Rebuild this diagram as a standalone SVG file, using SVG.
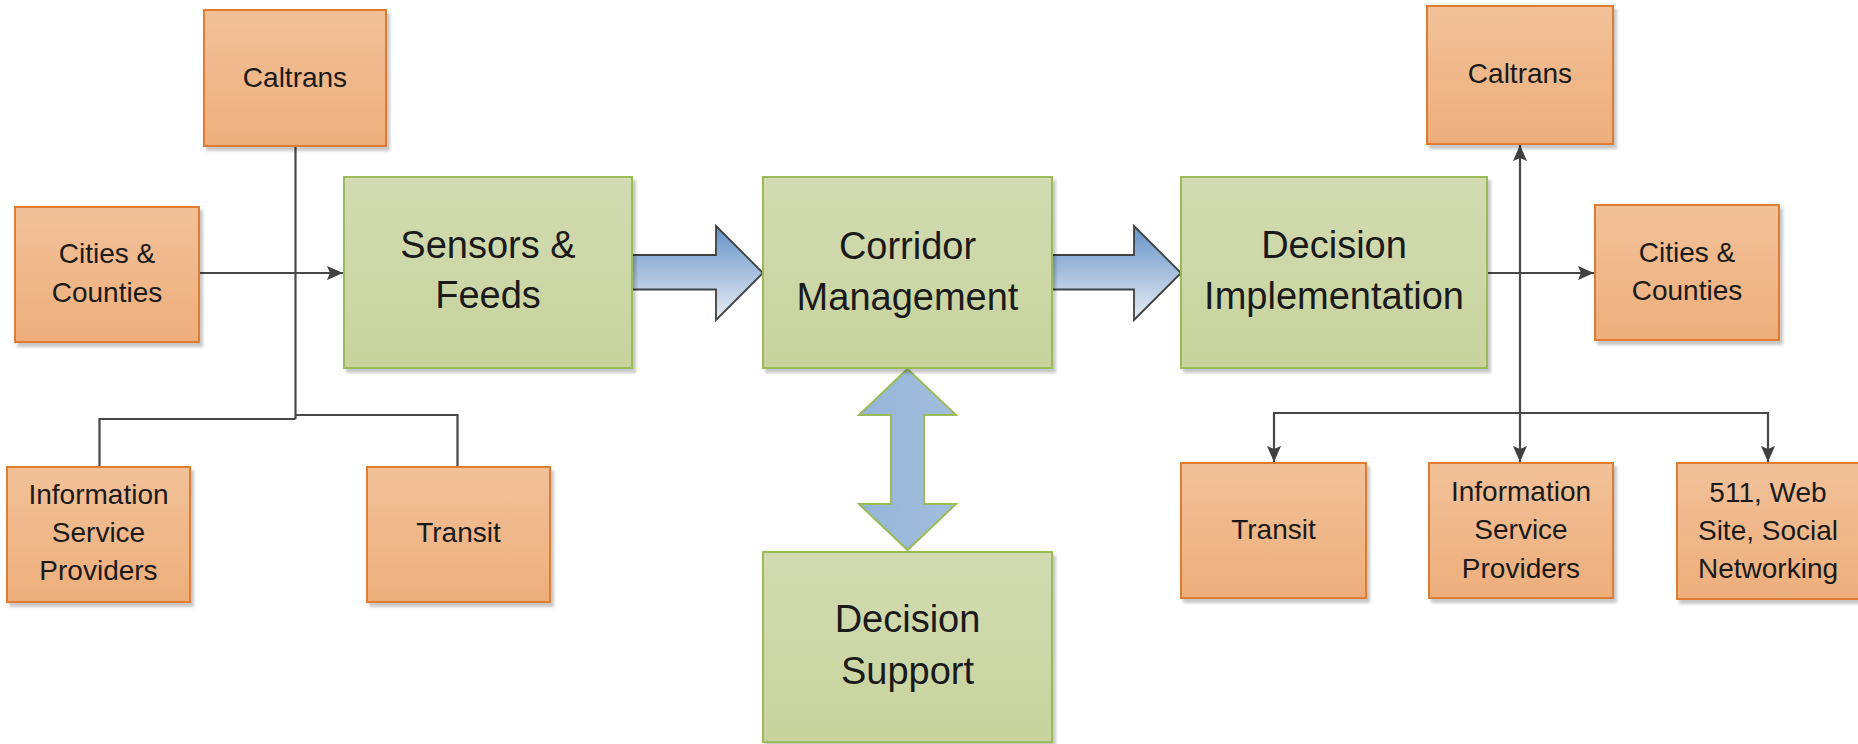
<svg xmlns="http://www.w3.org/2000/svg" width="1858" height="744" viewBox="0 0 1858 744">
  <defs>
    <linearGradient id="gOrange" x1="0" y1="0" x2="0" y2="1">
      <stop offset="0" stop-color="#F2C199"/>
      <stop offset="1" stop-color="#EDAE7B"/>
    </linearGradient>
    <linearGradient id="gGreen" x1="0" y1="0" x2="0" y2="1">
      <stop offset="0" stop-color="#D2DBB2"/>
      <stop offset="1" stop-color="#C8D39D"/>
    </linearGradient>
    <linearGradient id="gBlue" x1="0" y1="0" x2="0" y2="1">
      <stop offset="0" stop-color="#6593C8"/>
      <stop offset="1" stop-color="#E8EDF4"/>
    </linearGradient>
    <linearGradient id="gBlue2" x1="0" y1="0" x2="1" y2="0">
      <stop offset="0" stop-color="#95B5D8"/>
      <stop offset="1" stop-color="#A2BEDD"/>
    </linearGradient>
    <filter id="shadow" x="-10%" y="-10%" width="130%" height="130%">
      <feDropShadow dx="3" dy="4" stdDeviation="1.5" flood-color="#000" flood-opacity="0.22"/>
    </filter>
    <marker id="arrow" viewBox="0 0 16 14" refX="16" refY="7" markerWidth="16" markerHeight="14" markerUnits="userSpaceOnUse" orient="auto">
      <path d="M0,0 L16,7 L0,14 L3,7 z" fill="#404040"/>
    </marker>
    <style>
      .org { fill: url(#gOrange); stroke: #E07B32; stroke-width: 2; filter: url(#shadow); }
      .grn { fill: url(#gGreen); stroke: #9BBB59; stroke-width: 2; filter: url(#shadow); }
      .ts { font-family: "Liberation Sans", Arial, sans-serif; font-size: 28px; fill: #1a1a1a; text-anchor: middle; }
      .tl { font-family: "Liberation Sans", Arial, sans-serif; font-size: 38px; fill: #1a1a1a; text-anchor: middle; }
      .ln { fill: none; stroke: #474747; stroke-width: 2.2; }
      .la { fill: none; stroke: #474747; stroke-width: 2.2; marker-end: url(#arrow); }
      .blk { fill: url(#gBlue); stroke: #404040; stroke-width: 1.8; stroke-linejoin: miter; }
      .dbl { fill: url(#gBlue2); stroke: #9BBB59; stroke-width: 2; }
    </style>
  </defs>
  <rect width="1858" height="744" fill="#ffffff"/>

  <g id="connectors">
    <line class="ln" x1="295.5" y1="146" x2="295.5" y2="419"/>
    <path class="ln" d="M295.5,415 H457.5 V467"/>
    <path class="ln" d="M295.5,419 H99.5 V467"/>
    <path class="la" d="M199,273 H343"/>
    <path class="la" d="M1487,273 H1594"/>
    <path class="la" d="M1520,413 V145"/>
    <path class="la" d="M1520,413 V462"/>
    <path class="la" d="M1520,413 H1274 V462"/>
    <path class="la" d="M1520,413 H1768 V462"/>
    <polygon class="blk" points="632,255 716,255 716,226 763,273 716,320 716,289.5 632,289.5"/>
    <polygon class="blk" points="1052,255 1134,255 1134,226 1181,273 1134,320 1134,289.5 1052,289.5"/>
    <polygon class="dbl" points="907.5,369 956,415 924,415 924,504 956,504 907.5,550 859,504 891,504 891,415 859,415"/>
  </g>

  <g id="caltrans-left">
    <rect class="org" x="204" y="10" width="182" height="136"/>
    <text class="ts" x="295" y="87">Caltrans</text>
  </g>
  <g id="cities-left">
    <rect class="org" x="15" y="207" width="184" height="135"/>
    <text class="ts" x="107" y="263">Cities &amp;</text>
    <text class="ts" x="107" y="302">Counties</text>
  </g>
  <g id="isp-left">
    <rect class="org" x="7" y="467" width="183" height="135"/>
    <text class="ts" x="98.5" y="504">Information</text>
    <text class="ts" x="98.5" y="542">Service</text>
    <text class="ts" x="98.5" y="580">Providers</text>
  </g>
  <g id="transit-left">
    <rect class="org" x="367" y="467" width="183" height="135"/>
    <text class="ts" x="458.5" y="542">Transit</text>
  </g>

  <g id="sensors">
    <rect class="grn" x="344" y="177" width="288" height="191"/>
    <text class="tl" x="488" y="258">Sensors &amp;</text>
    <text class="tl" x="488" y="308">Feeds</text>
  </g>
  <g id="corridor">
    <rect class="grn" x="763" y="177" width="289" height="191"/>
    <text class="tl" x="907.5" y="259">Corridor</text>
    <text class="tl" x="907.5" y="310">Management</text>
  </g>
  <g id="decision-impl">
    <rect class="grn" x="1181" y="177" width="306" height="191"/>
    <text class="tl" x="1334" y="258">Decision</text>
    <text class="tl" x="1334" y="309">Implementation</text>
  </g>
  <g id="decision-support">
    <rect class="grn" x="763" y="552" width="289" height="190"/>
    <text class="tl" x="907.5" y="632">Decision</text>
    <text class="tl" x="907.5" y="684">Support</text>
  </g>

  <g id="caltrans-right">
    <rect class="org" x="1427" y="6" width="186" height="138"/>
    <text class="ts" x="1520" y="83">Caltrans</text>
  </g>
  <g id="cities-right">
    <rect class="org" x="1595" y="205" width="184" height="135"/>
    <text class="ts" x="1687" y="262">Cities &amp;</text>
    <text class="ts" x="1687" y="300">Counties</text>
  </g>
  <g id="transit-right">
    <rect class="org" x="1181" y="463" width="185" height="135"/>
    <text class="ts" x="1273.5" y="539">Transit</text>
  </g>
  <g id="isp-right">
    <rect class="org" x="1429" y="463" width="184" height="135"/>
    <text class="ts" x="1521" y="501">Information</text>
    <text class="ts" x="1521" y="539">Service</text>
    <text class="ts" x="1521" y="578">Providers</text>
  </g>
  <g id="web-511">
    <rect class="org" x="1677" y="463" width="186" height="136"/>
    <text class="ts" x="1768" y="502">511, Web</text>
    <text class="ts" x="1768" y="540">Site, Social</text>
    <text class="ts" x="1768" y="578">Networking</text>
  </g>
</svg>
